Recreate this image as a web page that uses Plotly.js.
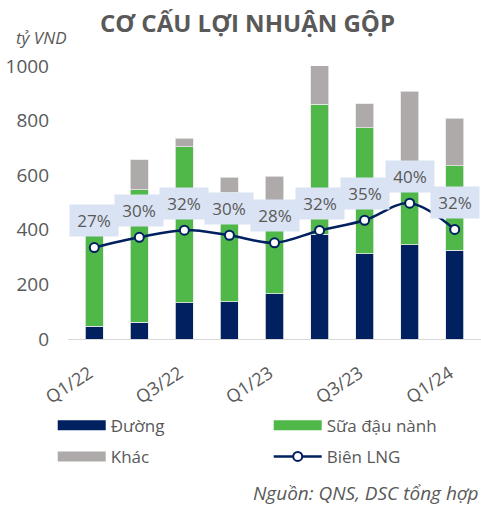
<!DOCTYPE html>
<html>
<head>
<meta charset="utf-8">
<script src="https://cdn.plot.ly/plotly-3.0.1.min.js"></script>
<style>html,body{margin:0;padding:0;background:#fff;}#chart{width:481px;height:505px;}</style>
</head>
<body>
<div id="chart"></div>
<script>
// Data (tỷ VND)
const quarters = ["Q1/22","Q2/22","Q3/22","Q4/22","Q1/23","Q2/23","Q3/23","Q4/23","Q1/24"];
const duong    = [46, 61, 132, 136, 166, 384, 312, 346, 325];
const suaDauNanh = [394, 486, 573, 401, 324, 475, 461, 264, 309];
const khac     = [30, 110, 30, 55, 106, 142, 89, 297, 175];
const bienLNG  = [0.268, 0.298, 0.319, 0.304, 0.282, 0.318, 0.348, 0.398, 0.321];
const tickQuarters = ["Q1/22","Q3/22","Q1/23","Q3/23","Q1/24"];

const FONT = "Open Sans, Noto Sans, sans-serif";
const GRAY = "#595959";
const NAVY = "#002060";
const GREEN = "#50B848";
const LIGHTGRAY = "#AEAAAA";

const barLine = {color: "#E8E8E8", width: 0.8};
const traces = [
  {type: "bar", name: "Đường", x: quarters, y: duong, marker: {color: NAVY, line: barLine}, showlegend: false, hoverinfo: "skip"},
  {type: "bar", name: "Sữa đậu nành", x: quarters, y: suaDauNanh, marker: {color: GREEN, line: barLine}, showlegend: false, hoverinfo: "skip"},
  {type: "bar", name: "Khác", x: quarters, y: khac, marker: {color: LIGHTGRAY, line: barLine}, showlegend: false, hoverinfo: "skip"},
  {type: "scatter", mode: "lines+markers", name: "Biên LNG", x: quarters, y: bienLNG, yaxis: "y2",
   line: {color: NAVY, width: 2.5, shape: "spline", smoothing: 1},
   marker: {color: "#FFFFFF", size: 9, line: {color: NAVY, width: 2}}, showlegend: false, hoverinfo: "skip"},
  // legend entries
  {type: "scatter", mode: "lines", name: "Đường", x: [null], y: [null], line: {color: NAVY, width: 12}, legend: "legend", legendgroup: "a"},
  {type: "scatter", mode: "lines", name: "Khác", x: [null], y: [null], line: {color: LIGHTGRAY, width: 12}, legend: "legend", legendgroup: "b"},
  {type: "scatter", mode: "lines", name: "Sữa đậu nành", x: [null], y: [null], line: {color: GREEN, width: 12}, legend: "legend2", legendgroup: "c"},
  {type: "scatter", mode: "lines+markers", name: "Biên LNG", x: [null], y: [null], line: {color: NAVY, width: 2.5},
   marker: {color: "#FFFFFF", size: 9, line: {color: NAVY, width: 2}}, legend: "legend2", legendgroup: "d"}
];

const annotations = quarters.map((q, i) => ({
  x: q, y: bienLNG[i], xref: "x", yref: "y2", yshift: 27,
  text: Math.round(bienLNG[i] * 100) + "%", showarrow: false,
  bgcolor: "#DAE3F3", width: 48, height: 31, borderpad: 0,
  font: {family: FONT, size: 17, color: GRAY}
}));
annotations.push({
  xref: "paper", yref: "paper", x: -0.131, y: 1.106, xanchor: "left", yanchor: "middle",
  text: "<i>tỷ VND</i>", showarrow: false, font: {family: FONT, size: 17, color: GRAY}
});
annotations.push({
  xref: "paper", yref: "paper", x: 1, y: -0.564, xanchor: "right", yanchor: "middle",
  text: "<i>Nguồn: QNS, DSC tổng hợp</i>", showarrow: false, font: {family: FONT, size: 19, color: GRAY}
});

const legendCommon = {
  orientation: "v", xanchor: "left", yanchor: "top", y: -0.252,
  itemwidth: 48, traceorder: "grouped", tracegroupgap: 6,
  font: {family: FONT, size: 17, color: GRAY}, bgcolor: "rgba(0,0,0,0)"
};

const layout = {
  width: 481, height: 505,
  margin: {l: 68, r: 0, t: 66, b: 166},
  paper_bgcolor: "#FFFFFF", plot_bgcolor: "#FFFFFF",
  barmode: "stack", bargap: 0.6,
  font: {family: FONT, color: GRAY},
  title: {text: "<b>CƠ CẤU LỢI NHUẬN GỘP</b>", xref: "container", x: 0.5146, xanchor: "center",
          yref: "container", y: 0.954, yanchor: "middle", font: {family: FONT, size: 24, color: GRAY}},
  xaxis: {type: "category", tickvals: tickQuarters, ticktext: tickQuarters, tickangle: -33,
          showgrid: false, showline: true, linecolor: "#D9D9D9", linewidth: 1, ticks: "",
          tickfont: {family: FONT, size: 18, color: GRAY}, ticklabelstandoff: 16, ticklabelshift: -5, fixedrange: true},
  yaxis: {range: [0, 1000], tickvals: [0, 200, 400, 600, 800, 1000], showgrid: false, zeroline: false,
          showline: false, ticks: "", tickfont: {family: FONT, size: 19, color: GRAY}, ticklabelstandoff: 18, fixedrange: true},
  yaxis2: {range: [0, 0.8], overlaying: "y", side: "right", visible: false, fixedrange: true},
  legend: Object.assign({}, legendCommon, {x: -0.037}),
  legend2: Object.assign({}, legendCommon, {x: 0.486}),
  annotations: annotations,
  showlegend: true
};

Plotly.newPlot("chart", traces, layout, {displayModeBar: false, staticPlot: true});
</script>
</body>
</html>
